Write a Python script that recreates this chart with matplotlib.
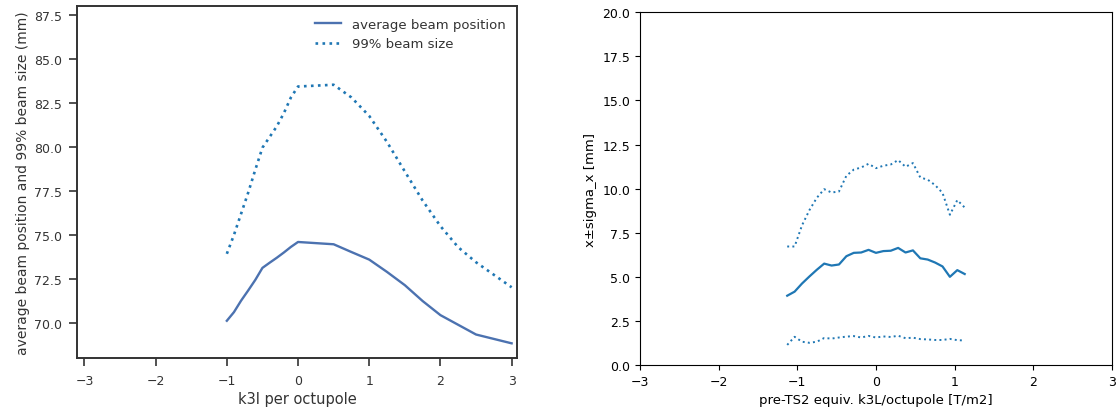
import matplotlib
matplotlib.use('Agg')
import numpy as np
import matplotlib.pyplot as plt

# scan 1: octupole strength vs beam position / 99% size
k3l = [-1.0, -0.9, -0.8, -0.7, -0.6, -0.5, -0.4, -0.3, -0.2, -0.1, 0.0,
       0.5, 0.75, 1.0, 1.25, 1.5, 1.75, 2.0, 2.25, 2.5, 3.0]
avg_pos = [70.13, 70.62, 71.27, 71.85, 72.45, 73.13, 73.42, 73.70, 74.00, 74.32, 74.60,
           74.47, 74.03, 73.60, 72.90, 72.15, 71.25, 70.45, 69.90, 69.35, 68.85]
size99 = [73.93, 75.00, 76.20, 77.40, 78.70, 79.95, 80.55, 81.15, 81.90, 82.80, 83.42,
          83.52, 82.80, 81.75, 80.27, 78.60, 76.95, 75.50, 74.30, 73.45, 72.03]

# scan 2: pre-TS2 equivalent k3L, mean x and sigma_x
k3L_eq = [-1.128, -1.034, -0.940, -0.846, -0.752, -0.658, -0.564, -0.470, -0.376,
          -0.282, -0.188, -0.094, 0.0, 0.094, 0.188, 0.282, 0.376, 0.470, 0.564,
          0.658, 0.752, 0.846, 0.940, 1.034, 1.128]
x_mean = [3.93, 4.16, 4.62, 5.02, 5.40, 5.75, 5.64, 5.70, 6.17, 6.36, 6.38, 6.53, 6.36,
          6.46, 6.48, 6.64, 6.38, 6.50, 6.05, 5.98, 5.81, 5.59, 5.00, 5.38, 5.16]
sigma_x = [2.79, 2.56, 3.30, 3.76, 4.08, 4.22, 4.14, 4.14, 4.56, 4.72, 4.82, 4.88, 4.80,
           4.84, 4.89, 4.98, 4.86, 4.95, 4.58, 4.53, 4.39, 4.17, 3.52, 3.97, 3.77]

fig = plt.figure(figsize=(11.19, 4.14), dpi=100)

# left panel, seaborn-ish look
grey = '#333333'
ax1 = fig.add_axes([0.0691, 0.1321, 0.3932, 0.8515])
ax1.plot(k3l, avg_pos, color='#4c72b0', lw=1.7, label='average beam position')
ax1.plot(k3l, size99, color='#1f77b4', lw=1.9, ls=':', label='99% beam size')
ax1.set_xlim(-3.1, 3.08)
ax1.set_ylim(68, 88)
ax1.set_yticks(np.arange(70, 88.1, 2.5))
ax1.set_xticks(range(-3, 4))
for s in ax1.spines.values():
    s.set_color(grey)
    s.set_linewidth(1.4)
ax1.tick_params(colors=grey, labelcolor=grey, labelsize=9, width=1.2, length=6, pad=5)
ax1.set_xlabel('k3l per octupole', fontsize=10.5, color=grey, labelpad=3)
ax1.set_ylabel('average beam position and 99% beam size (mm)', fontsize=10, color=grey, labelpad=3)
leg = ax1.legend(loc='upper right', frameon=False, fontsize=9.5)
for t in leg.get_texts():
    t.set_color(grey)

# right panel, plain matplotlib look
ax2 = fig.add_axes([0.5719, 0.1159, 0.4218, 0.8520])
xm = np.array(x_mean)
sx = np.array(sigma_x)
ax2.plot(k3L_eq, xm, color='#1f77b4', lw=1.6)
ax2.plot(k3L_eq, xm + sx, color='#1f77b4', lw=1.4, ls=':')
ax2.plot(k3L_eq, xm - sx, color='#1f77b4', lw=1.4, ls=':')
ax2.set_xlim(-3, 3)
ax2.set_ylim(0, 20)
ax2.set_yticks(np.arange(0, 20.1, 2.5))
ax2.tick_params(labelsize=9)
ax2.set_xlabel('pre-TS2 equiv. k3L/octupole [T/m2]', fontsize=9.5)
ax2.set_ylabel('x±sigma_x [mm]', fontsize=9.5)

fig.savefig('out.png', dpi=100)
